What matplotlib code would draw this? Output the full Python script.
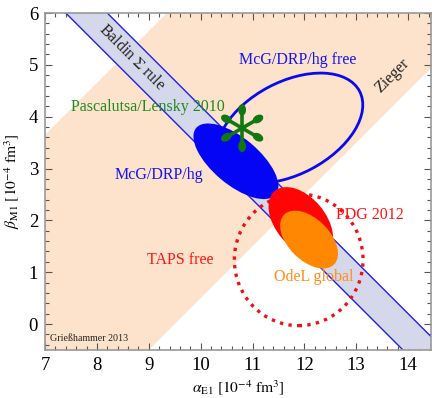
import numpy as np
import matplotlib
matplotlib.use("Agg")
import matplotlib.pyplot as plt
from matplotlib.patches import Ellipse, Circle

plt.rcParams['font.family'] = 'serif'
plt.rcParams['font.serif'] = ['Liberation Serif', 'DejaVu Serif']
plt.rcParams['mathtext.fontset'] = 'stix'

# Baldin sum rule: alpha + beta = 13.8 +- 0.4
baldin_sum = 13.8
baldin_err = 0.4

# Zieger band in alpha - beta
zieger_lo = 3.35
zieger_hi = 9.5

# ellipses: centre (alpha, beta), semi-axes, tilt in degrees
mcg_center = (10.68, 3.14)
mcg_axes = (1.0, 0.45)
mcg_angle = -40

mcg_free_center = (11.72, 3.78)
mcg_free_axes = (1.52, 0.89)
mcg_free_angle = 28

pdg_center = (11.93, 1.97)
pdg_axes = (0.78, 0.48)
pdg_angle = -50

odel_center = (12.09, 1.63)
odel_axes = (0.68, 0.40)
odel_angle = -45

taps_center = (11.89, 1.24)
taps_axes = (1.24, 1.27)

# Pascalutsa/Lensky prediction
pl_point = (10.8, 3.78)

fig = plt.figure(figsize=(4.32, 3.98), dpi=100)
ax = fig.add_axes([45/432, 48/398, 386/432, 337/398])

x = np.linspace(6, 15, 200)

# Zieger band
ax.fill_between(x, x - zieger_hi, x - zieger_lo, color='#fde3cb', lw=0, zorder=1)

# Baldin band
ax.fill_between(x, baldin_sum - baldin_err - x, baldin_sum + baldin_err - x,
                color='#d5d8ea', lw=0, zorder=2)
ax.plot(x, baldin_sum - baldin_err - x, color='#2020ee', lw=1, zorder=3)
ax.plot(x, baldin_sum + baldin_err - x, color='#2020ee', lw=1, zorder=3)

# TAPS free (dotted)
ax.add_patch(Ellipse(taps_center, 2*taps_axes[0], 2*taps_axes[1], fill=False,
                     ec='#ee1111', lw=2.4, ls=(0, (1, 1.6)), zorder=4))

# McG/DRP/hg free outline
ax.add_patch(Ellipse(mcg_free_center, 2*mcg_free_axes[0], 2*mcg_free_axes[1],
                     angle=mcg_free_angle, fill=False, ec='#0a0af0', lw=2, zorder=4))

# filled ellipses
ax.add_patch(Ellipse(mcg_center, 2*mcg_axes[0], 2*mcg_axes[1], angle=mcg_angle,
                     fc='#0505f5', ec='none', zorder=5))
ax.add_patch(Ellipse(pdg_center, 2*pdg_axes[0], 2*pdg_axes[1], angle=pdg_angle,
                     fc='#ff0505', ec='none', zorder=6))
ax.add_patch(Ellipse(odel_center, 2*odel_axes[0], 2*odel_axes[1], angle=odel_angle,
                     fc='#ff8800', ec='none', zorder=7))

# asterisk for Pascalutsa/Lensky: six arms with thick rounded ends
arm = 0.44
green = '#117711'
for a in [90, 30, -30, -90, -150, 150]:
    t = np.radians(a)
    dx, dy = np.cos(t), np.sin(t)
    ax.plot([pl_point[0], pl_point[0] + 0.7*arm*dx], [pl_point[1], pl_point[1] + 0.7*arm*dy],
            color=green, lw=2.6, solid_capstyle='round', zorder=8)
    ax.add_patch(Ellipse((pl_point[0] + 0.8*arm*dx, pl_point[1] + 0.8*arm*dy), 0.22, 0.15,
                         angle=a, fc=green, ec='none', zorder=8))
ax.add_patch(Circle(pl_point, 0.06, fc=green, ec='none', zorder=8))

# labels
fs = 11.5
ax.text(8.68, 5.15, r'Baldin $\Sigma$ rule', rotation=-45, ha='center', va='center',
        fontsize=fs, color='#222222', zorder=9)
ax.text(13.69, 4.80, 'Zieger', rotation=45, ha='center', va='center',
        fontsize=fs, color='#222222', zorder=9)
ax.text(11.88, 5.09, 'McG/DRP/hg free', ha='center', va='center', fontsize=fs,
        color='#1515f0', zorder=9)
ax.text(8.98, 4.19, 'Pascalutsa/Lensky 2010', ha='center', va='center', fontsize=fs,
        color='#1f8a1f', zorder=9)
ax.text(9.20, 2.88, 'McG/DRP/hg', ha='center', va='center', fontsize=fs,
        color='#1515f0', zorder=9)
ax.text(13.27, 2.11, 'PDG 2012', ha='center', va='center', fontsize=fs,
        color='#ff1515', zorder=9)
ax.text(9.60, 1.24, 'TAPS free', ha='center', va='center', fontsize=fs,
        color='#ff1515', zorder=9)
ax.text(12.18, 0.91, 'OdeL global', ha='center', va='center', fontsize=fs,
        color='#ff8c1a', zorder=9)
ax.text(7.85, -0.28, 'Grießhammer 2013', ha='center', va='center', fontsize=7.2,
        color='#222222', zorder=9)

ax.set_xlim(7, 7 + 386/51.88)
ax.set_ylim(-0.5, 6)
ax.set_xticks(np.arange(7, 15))
ax.set_yticks(np.arange(0, 7))
ax.set_xticks(np.arange(7, 14.5, 0.2), minor=True)
ax.set_yticks(np.arange(-0.4, 6.01, 0.2), minor=True)
ax.tick_params(which='both', direction='in', top=True, right=True, color='#555555',
               labelsize=13.5, width=0.8)
ax.tick_params(which='major', length=5, pad=5)
ax.tick_params(which='minor', length=3)
for s in ax.spines.values():
    s.set_color('#999999')
    s.set_linewidth(1.2)
    s.set_zorder(10)

ax.set_xlabel(r'$\alpha_{\mathrm{E1}}\ [10^{-4}\ \mathrm{fm}^3]$', fontsize=11.2, labelpad=3)
ax.set_ylabel(r'$\beta_{\mathrm{M1}}\ [10^{-4}\ \mathrm{fm}^3]$', fontsize=11.2, labelpad=5)

fig.savefig('out.png', dpi=100)
